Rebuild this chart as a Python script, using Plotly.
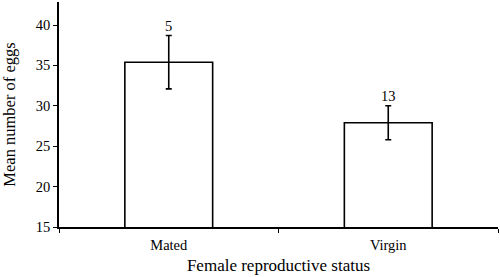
import plotly.graph_objects as go

categories = ["Mated", "Virgin"]
means = [35.4, 27.9]
errors = [3.3, 2.1]
sample_sizes = ["5", "13"]
y_ticks = [15, 20, 25, 30, 35, 40]

font = "Liberation Serif, Times New Roman, serif"

fig = go.Figure()
fig.add_trace(go.Bar(
    x=categories, y=means,
    width=0.4,
    marker=dict(color="white", line=dict(color="black", width=1.6)),
    error_y=dict(type="data", array=errors, visible=True, color="black", thickness=1.6, width=3),
    showlegend=False,
))

for c, m, e, n in zip(categories, means, errors, sample_sizes):
    fig.add_annotation(x=c, y=m + e, text=n, showarrow=False, yanchor="bottom", yshift=0,
                       font=dict(family=font, size=14.5, color="black"))

fig.update_layout(
    width=500, height=277,
    margin=dict(l=59, r=2, t=2, b=50),
    plot_bgcolor="white", paper_bgcolor="white",
    font=dict(family=font, color="black"),
)
fig.update_xaxes(
    automargin=False,
    showline=True, linecolor="black", linewidth=1.6,
    ticks="outside", tickson="boundaries", ticklen=4, tickcolor="black", tickwidth=1.4,
    tickfont=dict(family=font, size=14.5), ticklabelstandoff=4,
    title=dict(text="Female reproductive status", font=dict(family=font, size=17), standoff=7),
    showgrid=False,
)
fig.update_yaxes(
    automargin=False,
    range=[15, 42.85], tickvals=y_ticks,
    showline=True, linecolor="black", linewidth=1.6,
    ticks="outside", ticklen=4, tickcolor="black", tickwidth=1.4,
    tickfont=dict(family=font, size=14.5),
    title=dict(text="Mean number of eggs", font=dict(family=font, size=16.5), standoff=16),
    showgrid=False, zeroline=False,
)

fig.write_html("out.html", post_script="document.body.style.margin='0';",
               config={"displayModeBar": False})
